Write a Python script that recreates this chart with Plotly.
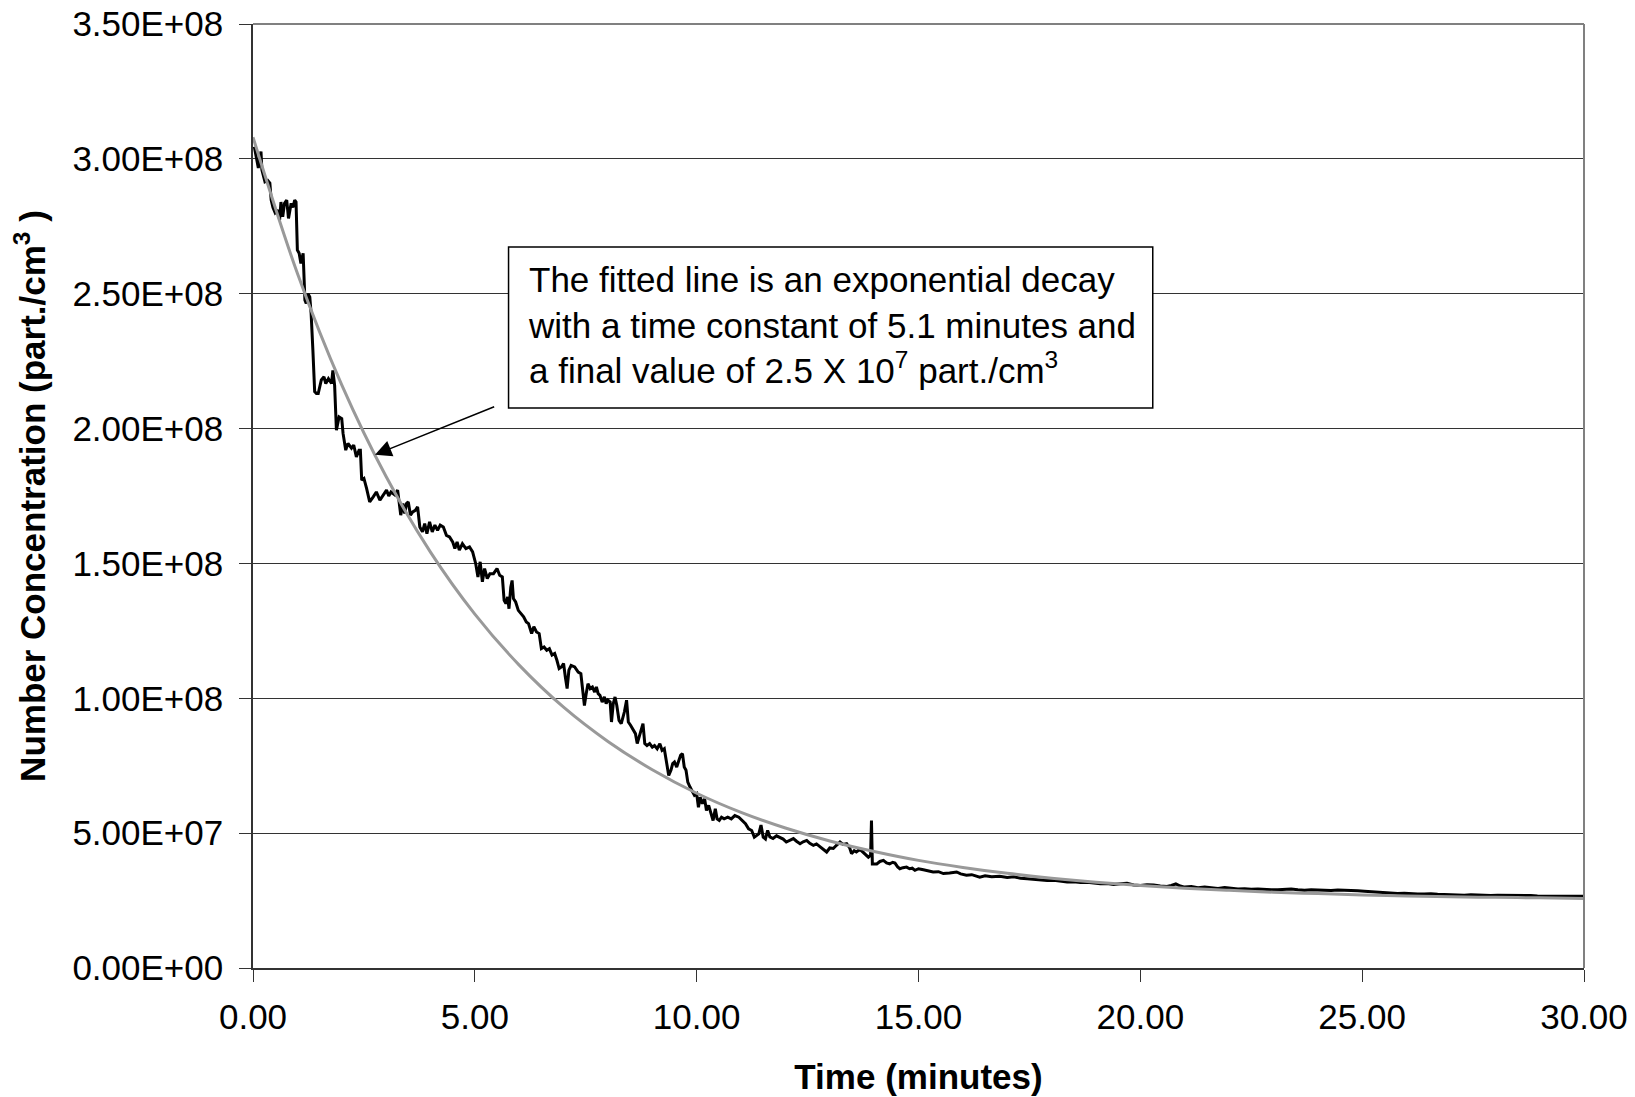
import plotly.graph_objects as go

# Measured number concentration (time in minutes, concentration in units of 1e7 part./cm3)
meas_time = [0.03, 0.08, 0.12, 0.18, 0.2, 0.27, 0.33, 0.38, 0.41, 0.45, 0.5, 0.56, 0.6, 0.63, 0.67, 0.71,
             0.76, 0.8, 0.86, 0.9, 0.94, 0.97, 1.0, 1.04, 1.08, 1.13, 1.17, 1.2, 1.24, 1.28, 1.31, 1.35,
             1.39, 1.43, 1.47, 1.54, 1.6, 1.64, 1.7, 1.77, 1.8, 1.84, 1.88, 1.94, 2.0, 2.03, 2.09, 2.14,
             2.22, 2.27, 2.33, 2.39, 2.42, 2.45, 2.5, 2.56, 2.63, 2.71, 2.78, 2.86, 2.93, 3.01, 3.06, 3.11,
             3.2, 3.26, 3.33, 3.38, 3.42, 3.46, 3.5, 3.55, 3.6, 3.66, 3.71, 3.76, 3.82, 3.87, 3.92, 3.98,
             4.04, 4.1, 4.16, 4.22, 4.29, 4.36, 4.43, 4.5, 4.55, 4.6, 4.65, 4.72, 4.8, 4.88, 4.95, 5.02,
             5.07, 5.12, 5.17, 5.22, 5.28, 5.34, 5.42, 5.5, 5.56, 5.62, 5.66, 5.7, 5.74, 5.77, 5.81, 5.84,
             5.87, 5.92, 5.98, 6.04, 6.1, 6.16, 6.21, 6.28, 6.33, 6.39, 6.45, 6.5, 6.56, 6.62, 6.68, 6.74,
             6.8, 6.85, 6.9, 6.95, 7.0, 7.04, 7.08, 7.12, 7.17, 7.25, 7.33, 7.39, 7.43, 7.47, 7.51, 7.55,
             7.6, 7.65, 7.7, 7.74, 7.78, 7.82, 7.87, 7.92, 7.96, 8.0, 8.05, 8.08, 8.12, 8.16, 8.2, 8.25,
             8.3, 8.33, 8.37, 8.42, 8.46, 8.51, 8.57, 8.62, 8.66, 8.7, 8.75, 8.79, 8.83, 8.88, 8.94, 9.0,
             9.05, 9.11, 9.17, 9.22, 9.27, 9.32, 9.37, 9.42, 9.46, 9.5, 9.55, 9.6, 9.64, 9.68, 9.72, 9.76,
             9.8, 9.85, 9.9, 9.95, 10.0, 10.04, 10.08, 10.13, 10.18, 10.22, 10.27, 10.32, 10.37, 10.42,
             10.46, 10.51, 10.56, 10.62, 10.7, 10.78, 10.86, 10.95, 11.03, 11.1, 11.17, 11.24, 11.3,
             11.35, 11.4, 11.45, 11.5, 11.55, 11.6, 11.65, 11.72, 11.8, 11.88, 11.95, 12.02, 12.1, 12.18,
             12.25, 12.33, 12.4, 12.48, 12.55, 12.63, 12.7, 12.78, 12.85, 12.93, 13.0, 13.08, 13.15,
             13.23, 13.3, 13.38, 13.45, 13.49, 13.55, 13.6, 13.68, 13.75, 13.82, 13.87, 13.92, 13.94,
             13.96, 14.06, 14.13, 14.21, 14.28, 14.35, 14.42, 14.47, 14.53, 14.58, 14.65, 14.73, 14.8,
             14.86, 14.92, 15.0, 15.11, 15.2, 15.33, 15.45, 15.56, 15.7, 15.86, 15.95, 16.08, 16.2,
             16.38, 16.5, 16.65, 16.83, 17.0, 17.15, 17.3, 17.45, 17.6, 17.75, 17.9, 18.05, 18.2, 18.35,
             18.5, 18.65, 18.8, 18.95, 19.1, 19.25, 19.4, 19.55, 19.7, 19.85, 20.0, 20.15, 20.3, 20.45,
             20.6, 20.7, 20.8, 20.9, 21.0, 21.15, 21.3, 21.45, 21.6, 21.75, 21.9, 22.05, 22.2, 22.35,
             22.5, 22.65, 22.8, 22.95, 23.1, 23.25, 23.4, 23.55, 23.7, 23.85, 24.0, 24.15, 24.3, 24.45,
             24.6, 24.75, 24.9, 25.05, 25.2, 25.35, 25.5, 25.65, 25.8, 25.95, 26.1, 26.25, 26.4, 26.55,
             26.7, 26.85, 27.0, 27.15, 27.3, 27.45, 27.6, 27.75, 27.9, 28.05, 28.2, 28.35, 28.5, 28.65,
             28.8, 28.95, 29.1, 29.25, 29.4, 29.55, 29.7, 29.85, 30.0]
meas_conc_e7 = [30.45, 30.05, 29.66, 30.27, 29.6, 29.15, 29.2, 29.1, 28.47, 28.2, 28.0, 28.1, 27.74, 28.4,
                27.85, 28.35, 28.47, 27.79, 28.35, 28.2, 28.47, 28.4, 26.62, 26.5, 26.12, 26.5, 24.76,
                24.64, 25.0, 24.88, 24.27, 22.9, 21.37, 21.3, 21.3, 21.8, 21.92, 21.67, 21.85, 21.67,
                22.16, 21.6, 19.94, 20.43, 20.37, 19.82, 19.2, 19.45, 19.27, 19.39, 18.95, 19.2, 19.2,
                18.09, 18.15, 17.78, 17.28, 17.47, 17.65, 17.35, 17.53, 17.72, 17.5, 17.65, 17.54, 17.72,
                16.79, 17.22, 16.85, 17.22, 17.28, 16.79, 16.91, 16.97, 17.1, 16.35, 16.17, 16.48, 16.1,
                16.54, 16.17, 16.42, 16.23, 16.42, 16.35, 16.04, 15.98, 15.8, 15.55, 15.8, 15.49, 15.73,
                15.55, 15.61, 15.43, 14.99, 14.5, 15.06, 14.32, 14.81, 14.44, 14.62, 14.62, 14.81, 14.56,
                14.5, 13.63, 13.51, 13.76, 13.32, 14.12, 14.37, 13.7, 13.57, 13.26, 13.14, 13.02, 12.83,
                12.77, 12.4, 12.65, 12.46, 12.4, 11.84, 11.9, 11.78, 11.84, 11.6, 11.66, 11.41, 11.1,
                11.16, 11.29, 10.79, 10.36, 11.04, 11.22, 11.16, 10.97, 10.91, 10.29, 9.73, 10.17, 10.54,
                10.36, 10.42, 10.23, 10.42, 10.17, 10.11, 9.86, 10.05, 9.8, 9.93, 9.86, 9.12, 9.8, 10.05,
                9.73, 9.18, 9.06, 9.24, 9.49, 9.93, 9.12, 9.0, 8.81, 8.69, 8.32, 8.56, 8.81, 9.06, 8.32,
                8.25, 8.32, 8.19, 8.25, 8.13, 8.32, 8.07, 8.13, 7.7, 7.14, 7.33, 7.58, 7.64, 7.45, 7.7,
                7.89, 7.95, 7.45, 7.33, 6.89, 6.71, 6.58, 6.4, 6.46, 5.96, 6.33, 6.09, 6.27, 5.84, 6.03,
                5.78, 5.47, 5.9, 5.53, 5.47, 5.59, 5.53, 5.59, 5.53, 5.65, 5.59, 5.47, 5.35, 5.16, 5.1,
                4.85, 4.91, 4.97, 5.3, 4.85, 4.78, 5.1, 4.86, 4.8, 4.9, 4.83, 4.78, 4.67, 4.75, 4.8, 4.7,
                4.61, 4.68, 4.73, 4.62, 4.55, 4.6, 4.49, 4.38, 4.3, 4.45, 4.43, 4.55, 4.67, 4.58, 4.61,
                4.45, 4.24, 4.35, 4.3, 4.4, 4.3, 4.2, 4.11, 4.18, 5.47, 3.86, 3.86, 3.95, 3.99, 3.9, 3.86,
                3.92, 3.89, 3.75, 3.68, 3.72, 3.74, 3.68, 3.7, 3.62, 3.68, 3.64, 3.6, 3.56, 3.57, 3.5,
                3.52, 3.56, 3.49, 3.44, 3.46, 3.37, 3.42, 3.38, 3.40, 3.36, 3.38, 3.33, 3.31, 3.28, 3.26,
                3.24, 3.25, 3.22, 3.19, 3.2, 3.17, 3.18, 3.14, 3.12, 3.13, 3.1, 3.12, 3.14, 3.08, 3.06,
                3.09, 3.08, 3.04, 3.02, 3.06, 3.12, 3.04, 3.0, 3.02, 2.98, 3.0, 2.97, 2.95, 2.98, 2.95,
                2.93, 2.94, 2.92, 2.93, 2.91, 2.9, 2.9, 2.92, 2.93, 2.9, 2.88, 2.9, 2.9, 2.88, 2.87, 2.89,
                2.88, 2.86, 2.86, 2.85, 2.83, 2.82, 2.8, 2.78, 2.76, 2.77, 2.75, 2.74, 2.74, 2.75, 2.73,
                2.72, 2.72, 2.71, 2.7, 2.72, 2.71, 2.69, 2.69, 2.7, 2.7, 2.68, 2.68, 2.7, 2.69, 2.67,
                2.67, 2.68, 2.68, 2.66, 2.67, 2.66, 2.66]

# Fitted exponential decay curve, read at 1-minute steps (units of 1e7 part./cm3)
fit_time = list(range(0, 31))
fit_conc_e7 = [30.8, 25.76, 21.62, 18.22, 15.42, 13.12, 11.23, 9.67, 8.40, 7.35, 6.48, 5.77, 5.19, 4.71,
               4.32, 3.99, 3.73, 3.51, 3.33, 3.18, 3.06, 2.96, 2.88, 2.81, 2.76, 2.71, 2.67, 2.64, 2.62,
               2.60, 2.58]

y_tickvals = [0, 5e7, 1e8, 1.5e8, 2e8, 2.5e8, 3e8, 3.5e8]
y_ticktext = ["0.00E+00", "5.00E+07", "1.00E+08", "1.50E+08", "2.00E+08", "2.50E+08", "3.00E+08", "3.50E+08"]
x_tickvals = [0, 5, 10, 15, 20, 25, 30]

meas_conc = [v * 1e7 for v in meas_conc_e7]
fit_conc = [v * 1e7 for v in fit_conc_e7]

FONT = "Liberation Sans, Arial, sans-serif"

fig = go.Figure()
fig.add_trace(go.Scatter(x=meas_time, y=meas_conc, mode="lines",
                         line=dict(color="black", width=3), hoverinfo="skip"))
fig.add_trace(go.Scatter(x=fit_time, y=fit_conc, mode="lines",
                         line=dict(color="#999999", width=3, shape="spline"), hoverinfo="skip"))

fig.update_layout(
    width=1627, height=1089,
    margin=dict(l=245, r=51, t=16, b=129),
    plot_bgcolor="white", paper_bgcolor="white",
    showlegend=False,
    font=dict(family=FONT, size=34, color="black"),
    xaxis=dict(range=[0, 30], tickvals=x_tickvals, tickformat=".2f", automargin=False,
               ticks="outside", ticklen=12, tickcolor="#333333", tickwidth=1.2,
               showline=True, linecolor="#333333", linewidth=1.5,
               showgrid=False, zeroline=False, ticklabelstandoff=5, ticklabeloverflow="allow",
               tickfont=dict(size=35),
               title=dict(text="<b>Time (minutes)</b>", font=dict(size=35), standoff=30)),
    yaxis=dict(range=[0, 3.5e8], tickvals=y_tickvals, ticktext=y_ticktext, automargin=False,
               ticks="outside", ticklen=12, tickcolor="#333333", tickwidth=1.2,
               showline=True, linecolor="#333333", linewidth=1.5,
               showgrid=True, gridcolor="#333333", gridwidth=1, zeroline=False,
               ticklabelstandoff=9, ticklabeloverflow="allow", tickfont=dict(size=35),
               title=dict(text="<b>Number Concentration (part./cm<sup>3</sup> )</b>",
                          font=dict(size=35), standoff=20)),
)

# plot-area border (top and right) in grey
fig.add_shape(type="line", xref="paper", yref="paper", x0=0, x1=1, y0=1, y1=1,
              line=dict(color="#808080", width=2), layer="above")
fig.add_shape(type="line", xref="paper", yref="paper", x0=1, x1=1, y0=0, y1=1,
              line=dict(color="#808080", width=2), layer="above")

# text box
fig.add_shape(type="rect", xref="x", yref="y", x0=5.76, x1=20.28, y0=2.076e8, y1=2.673e8,
              line=dict(color="black", width=1.5), fillcolor="white", layer="above")
fig.add_annotation(x=6.15, y=2.385e8, xref="x", yref="y", xanchor="left", yanchor="middle",
                   align="left", showarrow=False,
                   text="The fitted line is an exponential decay<br>with a time constant of 5.1 minutes and<br>"
                        "a final value of 2.5 X 10<sup>7</sup> part./cm<sup>3</sup>",
                   font=dict(size=35, family=FONT, color="black"))

# arrow
fig.add_annotation(x=2.75, y=1.903e8, ax=5.47, ay=2.083e8, xref="x", yref="y", axref="x", ayref="y",
                   text="", showarrow=True, arrowhead=2, arrowsize=2.2, arrowwidth=1.5,
                   arrowcolor="black")

fig.write_html("out.html")
